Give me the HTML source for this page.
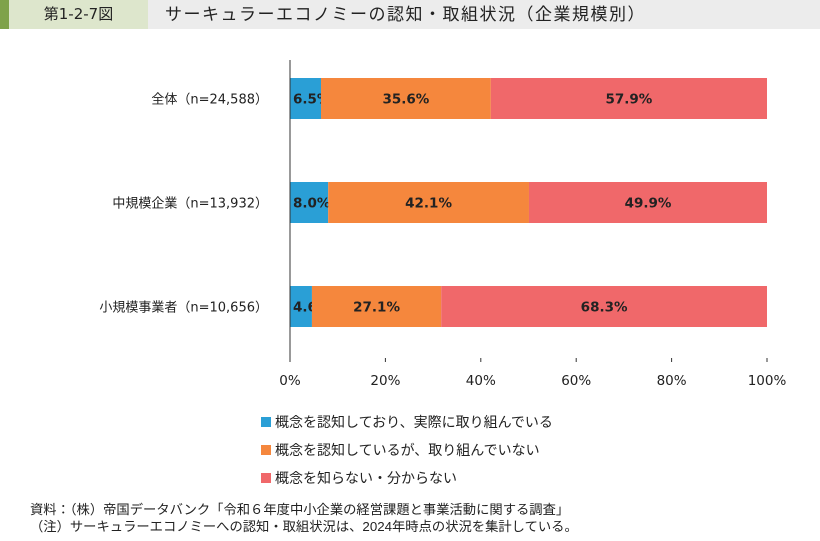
<!DOCTYPE html>
<html><head><meta charset="utf-8"><style>
body{margin:0;width:820px;height:541px;background:#fff;font-family:"Liberation Sans","Noto Sans CJK JP",sans-serif;position:relative;overflow:hidden}
.a{position:absolute}
</style></head><body>
<div class="a" style="left:0;top:0;width:9px;height:29px;background:#7fa24a"></div>
<div class="a" style="left:9px;top:0;width:139px;height:29px;background:#dde6cc;font-family:'DejaVu Sans','Noto Sans CJK JP',sans-serif;font-size:15px;line-height:29px;text-align:center;color:#222">第1-2-7図</div>
<div class="a" style="left:148px;top:0;width:672px;height:29px;background:#ececec;font-size:17px;letter-spacing:1.5px;line-height:29px;padding-left:17px;box-sizing:border-box;color:#222">サーキュラーエコノミーの認知・取組状況（企業規模別）</div>
<svg class="a" style="left:0;top:0" width="820" height="541" id="c"></svg>
<div class="a" style="left:30px;top:501px;font-size:13.3px;color:#222;line-height:17px">資料：（株）帝国データバンク「令和６年度中小企業の経営課題と事業活動に関する調査」<br>（注）サーキュラーエコノミーへの認知・取組状況は、2024年時点の状況を集計している。</div>
<script>
const categories=["全体（n=24,588）","中規模企業（n=13,932）","小規模事業者（n=10,656）"];
const s1=[6.5,8.0,4.6];
const s2=[35.6,42.1,27.1];
const s3=[57.9,49.9,68.3];
const ticks=[0,20,40,60,80,100];
const seriesNames=["概念を認知しており、実際に取り組んでいる","概念を認知しているが、取り組んでいない","概念を知らない・分からない"];
const colors=["#2a9fd6","#f5873d","#f0686a"];
const svg=document.getElementById('c');const NS="http://www.w3.org/2000/svg";
const NF="'DejaVu Sans','Noto Sans CJK JP',sans-serif";
const X=v=>290+v*4.77;const Y=i=>78+i*104;const BH=41;
function el(t,a,p){const e=document.createElementNS(NS,t);for(const k in a)e.setAttribute(k,a[k]);(p||svg).appendChild(e);return e;}
const data=[s1,s2,s3];
categories.forEach((c,i)=>{
 let acc=0;
 data.forEach((s,j)=>{
  const r=el('rect',{x:X(acc),y:Y(i),width:X(acc+s[i])-X(acc),height:BH,fill:colors[j]});
  
  
  const first=j===0;
  const t=el('text',{x:first?X(acc)+3:(X(acc)+X(acc+s[i]))/2,y:Y(i)+BH/2+5,'text-anchor':first?'start':'middle','font-size':13.5,'font-weight':'bold',fill:'#222','font-family':NF});
  t.textContent=s[i].toFixed(1)+'%';
  
  
  acc+=s[i];
 });
 const l=el('text',{x:268,y:Y(i)+BH/2+5,'text-anchor':'end','font-size':13,fill:'#222','font-family':NF});
 l.textContent=c;
 
 
});
const ax=el('line',{x1:290,y1:60,x2:290,y2:358,stroke:'#333','stroke-width':1});


ticks.forEach(v=>{
 const tk=el('line',{x1:X(v),y1:358,x2:X(v),y2:362,stroke:'#333'});
 
 
 const t=el('text',{x:X(v),y:385,'text-anchor':'middle','font-size':13.5,fill:'#222','font-family':NF});
 t.textContent=v+'%';
 
 
});
seriesNames.forEach((n,j)=>{
 const y=422+j*28;
 const r=el('rect',{x:261,y:y-5,width:10,height:10,fill:colors[j]});
 
 
 const t=el('text',{x:275,y:y+5,'font-size':14,fill:'#222'});
 t.textContent=n;
 
 
});
</script>
</body></html>
